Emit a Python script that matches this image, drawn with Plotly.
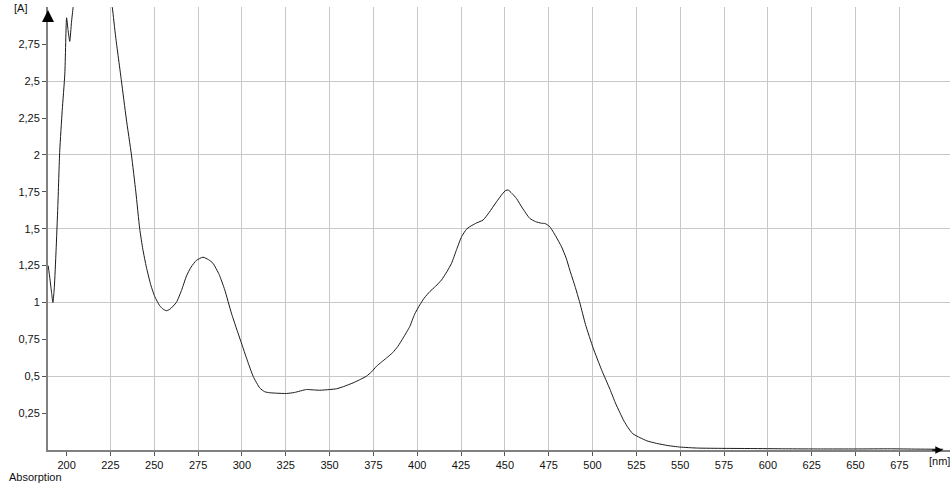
import plotly.graph_objects as go

# widmo absorpcji
nm = [189.5, 190.5, 191.5, 192.2, 193.0, 194.0, 195.0, 196.1, 197.5, 199.0,
      200.0, 200.8, 201.8, 202.8, 203.7, 205, 210, 215, 220, 224,
      226.1, 228, 231.3, 234, 237, 239.5, 241.7, 243.5, 245.5, 248,
      250.3, 253, 255, 257, 259, 262.6, 265.5, 268.4, 271, 274,
      277.8, 281, 283.5, 287, 290.2, 294, 297, 299.7, 303, 306.4,
      310.2, 313, 315.9, 320, 325.4, 330, 336.8, 340, 344.4, 350,
      354, 358, 363.4, 367, 371, 374, 376.8, 379.5, 382.5, 386,
      389, 392, 395.8, 398.5, 401.5, 404, 407.2, 410.5, 413.9, 417,
      419.6, 422.5, 425.3, 428, 430, 434, 437.6, 441, 445.2, 448.5,
      450.5, 451.9, 454, 456.6, 460, 464.2, 467.5, 470.9, 473, 475.6,
      479, 482.3, 485, 487, 490, 492.8, 496, 500.4, 505.1, 510,
      513, 515.6, 518, 520.3, 523, 527, 531, 536.5, 543, 549.8,
      560, 575, 590, 610, 630, 650, 670, 685, 700]
absorbancja = [1.25, 1.16, 1.06, 1.00, 1.10, 1.35, 1.65, 2.03, 2.30, 2.55,
               2.93, 2.85, 2.77, 2.90, 3.00, 3.2, 3.6, 3.8, 3.6, 3.2,
               3.00, 2.80, 2.50, 2.25, 2.00, 1.75, 1.50, 1.36, 1.24, 1.12,
               1.04, 0.98, 0.955, 0.944, 0.955, 1.00, 1.08, 1.18, 1.24, 1.285,
               1.307, 1.29, 1.266, 1.19, 1.086, 0.928, 0.82, 0.726, 0.61, 0.50,
               0.42, 0.395, 0.388, 0.385, 0.383, 0.39, 0.41, 0.408, 0.405, 0.41,
               0.415, 0.43, 0.455, 0.475, 0.50, 0.53, 0.568, 0.595, 0.624, 0.66,
               0.703, 0.76, 0.838, 0.92, 0.984, 1.03, 1.074, 1.11, 1.153, 1.21,
               1.266, 1.36, 1.446, 1.495, 1.514, 1.54, 1.559, 1.61, 1.682, 1.735,
               1.76, 1.762, 1.74, 1.705, 1.64, 1.57, 1.548, 1.537, 1.535, 1.514,
               1.45, 1.378, 1.30, 1.221, 1.11, 0.996, 0.85, 0.69, 0.545, 0.41,
               0.32, 0.253, 0.195, 0.151, 0.11, 0.084, 0.062, 0.045, 0.03, 0.02,
               0.013, 0.011, 0.01, 0.008, 0.007, 0.007, 0.008, 0.006, 0.005]

x_ticks = [200, 225, 250, 275, 300, 325, 350, 375, 400, 425, 450, 475, 500,
           525, 550, 575, 600, 625, 650, 675]
x_grid = [225, 250, 275, 300, 325, 350, 375, 400, 425, 450, 475, 500,
          525, 550, 575, 600, 625, 650, 675]
y_ticks = [0.25, 0.5, 0.75, 1, 1.25, 1.5, 1.75, 2, 2.25, 2.5, 2.75]
y_labels = ["0,25", "0,5", "0,75", "1", "1,25", "1,5", "1,75", "2", "2,25", "2,5", "2,75"]
y_grid = [0.5, 1, 1.5, 2, 2.5, 3]

fig = go.Figure()
fig.add_trace(go.Scatter(x=nm, y=absorbancja, mode="lines",
                         line=dict(color="#1a1a1a", width=1, shape="spline", smoothing=0.5),
                         showlegend=False, hoverinfo="skip"))

font = dict(family="Liberation Sans, Arial, sans-serif", size=11, color="#111111")

fig.update_layout(
    width=950, height=491,
    margin=dict(l=48, r=0, t=7, b=41),
    paper_bgcolor="white", plot_bgcolor="white",
    font=font,
    xaxis=dict(range=[189.4, 703.9], tickvals=x_ticks, ticks="outside", ticklen=4,
               tickcolor="#555555", showgrid=False, zeroline=False, automargin=False,
               showline=True, linecolor="#808080", linewidth=2,
               minor=dict(tickvals=x_grid, showgrid=True, gridcolor="#c8c8c8", gridwidth=1)),
    yaxis=dict(range=[0, 3.003], tickvals=y_ticks, ticktext=y_labels, ticks="outside",
               ticklen=4, tickcolor="#555555", showgrid=False, zeroline=False, automargin=False,
               showline=True, linecolor="#808080", linewidth=2,
               minor=dict(tickvals=y_grid, showgrid=True, gridcolor="#c8c8c8", gridwidth=1)),
)

# opisy osi
fig.add_annotation(text="[A]", xref="paper", yref="paper", x=-0.04, y=0.998,
                   xanchor="left", yanchor="middle", showarrow=False)
fig.add_annotation(text="Absorption", xref="paper", yref="paper", x=-0.0455, y=-0.061,
                   xanchor="left", yanchor="middle", showarrow=False)
fig.add_annotation(text="[nm]", xref="paper", yref="paper", x=0.975, y=-0.025,
                   xanchor="left", yanchor="middle", showarrow=False)

# strzalki na koncach osi
fig.add_annotation(text="", xref="paper", yref="paper", x=0, y=0.993, ax=0, ay=12,
                   showarrow=True, arrowhead=2, arrowsize=1.2, arrowwidth=2, arrowcolor="black")
fig.add_annotation(text="", xref="paper", yref="paper", x=0.992, y=0, ax=-12, ay=0,
                   showarrow=True, arrowhead=2, arrowsize=1, arrowwidth=1.5, arrowcolor="black")

# bez marginesu strony, zeby wykres zaczynal sie w rogu okna
fig.write_html("out.html", config={"displayModeBar": False},
               post_script="document.body.style.margin = '0';")
